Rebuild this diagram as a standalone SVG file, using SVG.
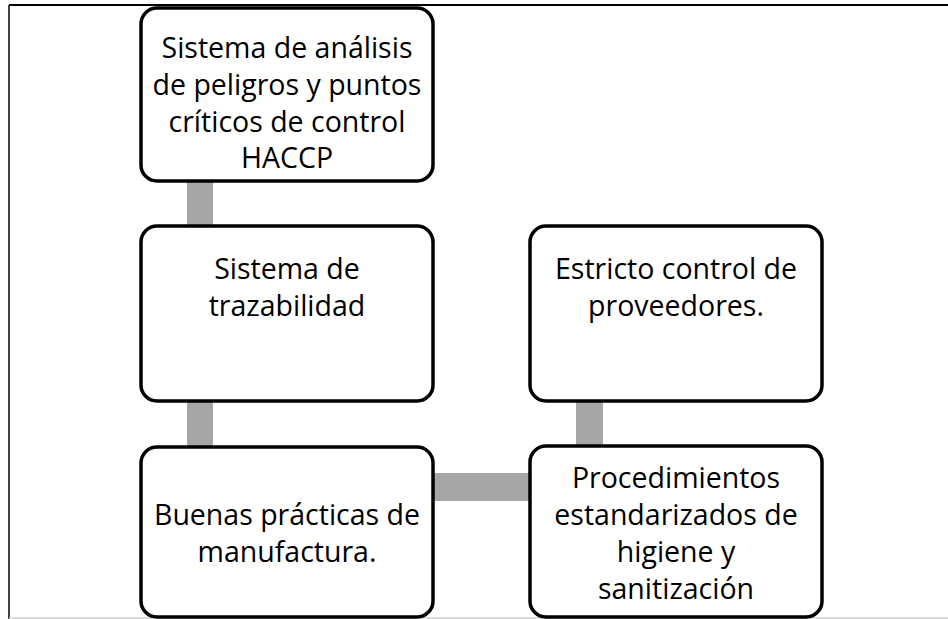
<svg xmlns="http://www.w3.org/2000/svg" width="948" height="619" viewBox="0 0 948 619">
<style>
.box{fill:#fff;stroke:#000;stroke-width:3.5}
.conn{fill:#a6a6a6}
text{font-family:"Open Sans","Liberation Sans",sans-serif;font-size:28.5px;fill:#000;text-anchor:middle}
</style>
<rect x="0" y="0" width="948" height="619" fill="#fff"/>
<g id="frame">
<line x1="9" y1="5" x2="948" y2="5" stroke="#000" stroke-width="2"/>
<line x1="9" y1="5" x2="9" y2="619" stroke="#000" stroke-width="1.5"/>
<line x1="9" y1="618" x2="948" y2="618" stroke="#d0d0d0" stroke-width="1.5"/>
</g>
<g id="connectors">
<rect class="conn" x="187" y="180" width="26" height="46"/>
<rect class="conn" x="187" y="400" width="26" height="48"/>
<rect class="conn" x="576" y="400" width="27" height="46"/>
<rect class="conn" x="433" y="473" width="98" height="28"/>
</g>
<g id="n1">
<rect class="box" x="141" y="8" width="292" height="173" rx="16"/>
<text x="287" y="58">Sistema de análisis</text>
<text x="287" y="95">de peligros y puntos</text>
<text x="287" y="132">críticos de control</text>
<text x="287" y="168">HACCP</text>
</g>
<g id="n2">
<rect class="box" x="141" y="226" width="292" height="175" rx="16"/>
<text x="287" y="279">Sistema de</text>
<text x="287" y="316">trazabilidad</text>
</g>
<g id="n3">
<rect class="box" x="141" y="447" width="292" height="170" rx="16"/>
<text x="287" y="525">Buenas prácticas de</text>
<text x="287" y="562">manufactura.</text>
</g>
<g id="n4">
<rect class="box" x="530" y="226" width="292" height="175" rx="16"/>
<text x="676" y="279">Estricto control de</text>
<text x="676" y="316">proveedores.</text>
</g>
<g id="n5">
<rect class="box" x="530" y="446" width="292" height="171" rx="16"/>
<text x="676" y="488">Procedimientos</text>
<text x="676" y="525">estandarizados de</text>
<text x="676" y="562">higiene y</text>
<text x="676" y="599">sanitización</text>
</g>
</svg>
